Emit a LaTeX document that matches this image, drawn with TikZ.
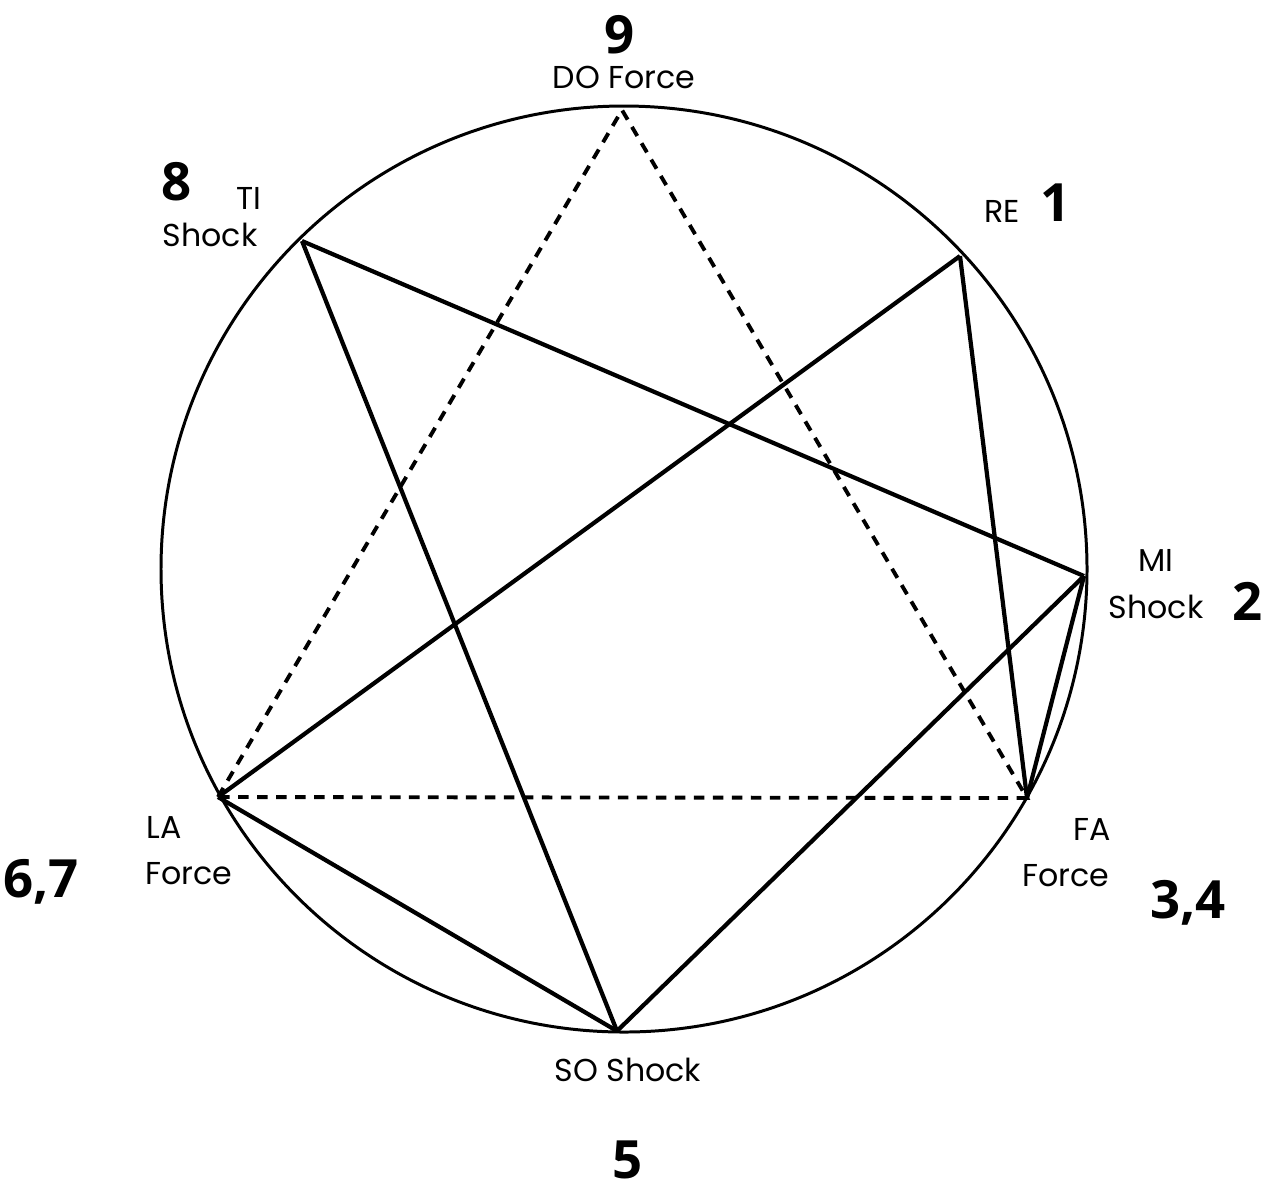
\documentclass[tikz,border=0pt]{standalone}
\usepackage{fontspec}
\setmainfont{Poppins}
\newfontfamily\numfont{Open Sans}
\begin{document}
\begin{tikzpicture}[x=0.01cm,y=-0.01cm,
  chord/.style={line width=1.2pt},
  dchord/.style={line width=1.1pt,dash pattern=on 3pt off 2.4pt},
  lbl/.style={font=\fontsize{9}{10}\selectfont, inner sep=0pt},
  num/.style={font=\numfont\bfseries\fontsize{15}{16}\selectfont, inner sep=0pt}]
\useasboundingbox (0,0) rectangle (1267,1196);
\draw[line width=0.85pt] (624,569) circle (463);
\coordinate (P9) at (622,110);
\coordinate (P8) at (302,241);
\coordinate (P1) at (960,256);
\coordinate (P2) at (1084,576);
\coordinate (P3) at (1027,798);
\coordinate (P6) at (218,797);
\coordinate (P5) at (617,1031);
\draw[dchord] (P6) -- (P9) -- (P3) -- (P6);
\draw[chord] (P8) -- (P2);
\draw[chord] (P8) -- (P5);
\draw[chord] (P1) -- (P6);
\draw[chord] (P1) -- (P3);
\draw[chord] (P2) -- (P5);
\draw[chord] (P2) -- (P3);
\draw[chord] (P6) -- (P5);
\node[num] (n9) at (620,35) {9};
\node[lbl] (l9) at (624,77) {DO Force};
\node[num] (n8) at (177,182) {8};
\node[lbl] (l8a) at (249,198) {TI};
\node[lbl] (l8b) at (210,235) {Shock};
\node[lbl] (l1) at (1002,211) {RE};
\node[num] (n1) at (1056,203) {1};
\node[lbl] (l2a) at (1156,560) {MI};
\node[lbl] (l2b) at (1156,607) {Shock};
\node[num] (n2) at (1248,601) {2};
\node[lbl] (l3a) at (1092,829) {FA};
\node[lbl] (l3b) at (1066,876) {Force};
\node[num] (n3) at (1188,903) {3,4};
\node[lbl] (l6a) at (164,827) {LA};
\node[lbl] (l6b) at (189,874) {Force};
\node[num] (n6) at (41,882) {6,7};
\node[lbl] (l5) at (628,1070) {SO Shock};
\node[num] (n5) at (628,1160) {5};
\end{tikzpicture}
\end{document}
